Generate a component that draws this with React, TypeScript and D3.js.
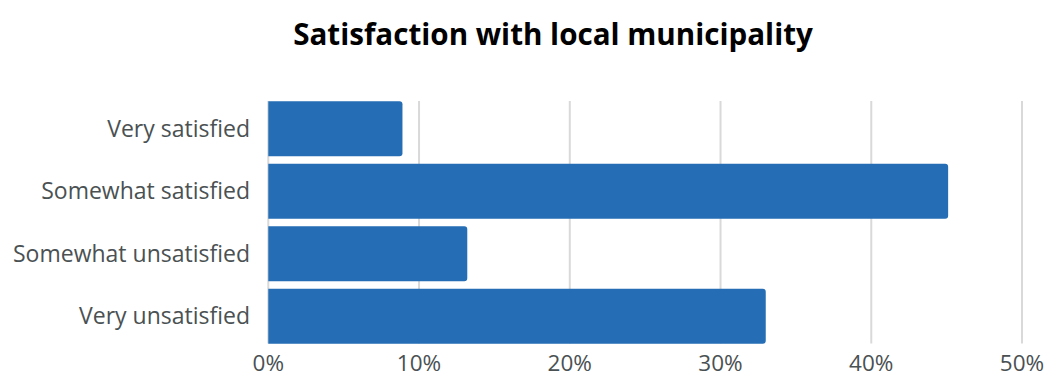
import React from "react";
import * as d3 from "d3";

const categories = ["Very satisfied", "Somewhat satisfied", "Somewhat unsatisfied", "Very unsatisfied"];
const values = [8.9, 45.1, 13.2, 33.0];
const ticks = [0, 10, 20, 30, 40, 50];
const title = "Satisfaction with local municipality";

const W = 1050;
const H = 378;
const FONT = "'Open Sans', 'Noto Sans', sans-serif";

export default function App() {
  const x = d3.scaleLinear().domain([0, 50]).range([268.3, 1022]);
  const y = d3.scaleBand<string>().domain(categories).range([97.5, 347.5]).paddingInner(0.12).paddingOuter(0.06);
  const r = 3;
  const barPath = (v: number, c: string) => {
    const x0 = x(0);
    const x1 = x(v);
    const y0 = y(c)!;
    const h = y.bandwidth();
    return `M${x0},${y0}H${x1 - r}A${r},${r} 0 0 1 ${x1},${y0 + r}V${y0 + h - r}A${r},${r} 0 0 1 ${x1 - r},${y0 + h}H${x0}Z`;
  };
  return (
    <svg width={W} height={H} style={{ position: "absolute", left: 0, top: 0, background: "#fff" }}>
      <text x={553} y={45} textAnchor="middle" fontFamily={FONT} fontWeight={700} fontSize={29.6} fill="#000">
        {title}
      </text>
      {ticks.map((t) => (
        <line key={"g" + t} x1={x(t)} x2={x(t)} y1={101} y2={343.5} stroke="#d9d9d9" strokeWidth={2} />
      ))}
      {categories.map((c, i) => (
        <path key={c} d={barPath(values[i], c)} fill="#256db4" />
      ))}
      {categories.map((c) => (
        <text key={"l" + c} x={250} y={y(c)! + y.bandwidth() / 2} dy="0.35em" textAnchor="end" fontFamily={FONT} fontSize={23} fill="#4a5153">
          {c}
        </text>
      ))}
      {ticks.map((t) => (
        <text key={"t" + t} x={x(t)} y={371} textAnchor="middle" fontFamily={FONT} fontSize={22.5} fill="#4a5153">
          {t + "%"}
        </text>
      ))}
    </svg>
  );
}
